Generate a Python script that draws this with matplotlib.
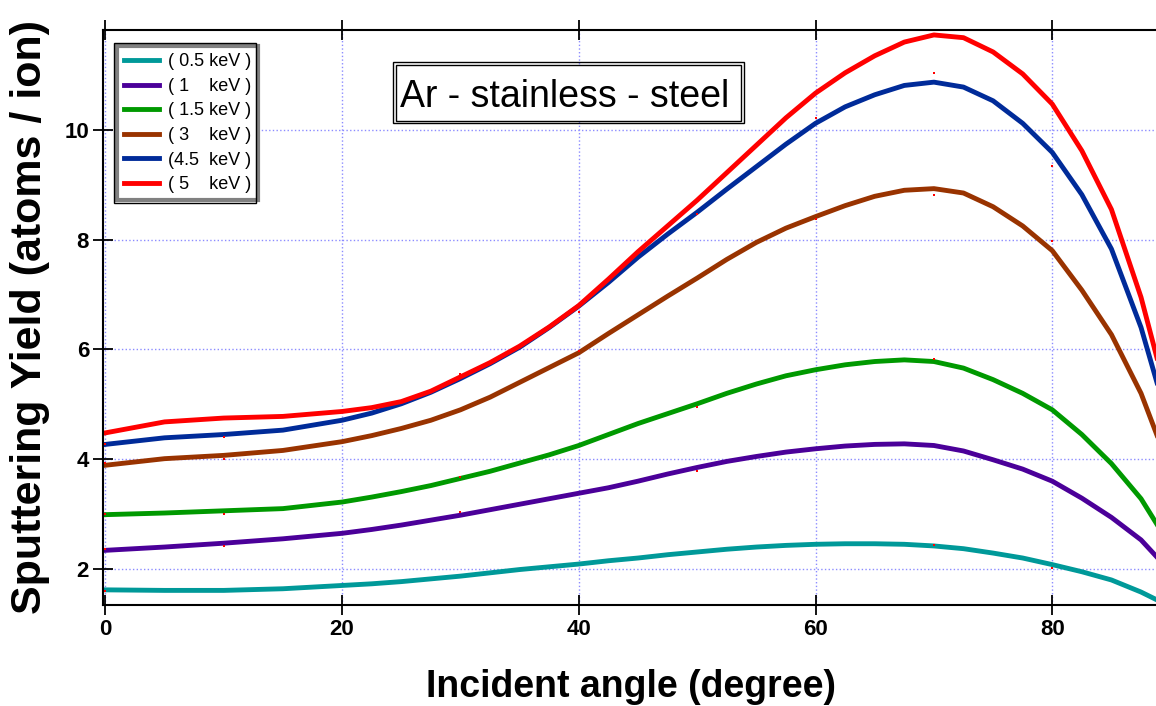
import numpy as np
import matplotlib
matplotlib.use("Agg")
import matplotlib.pyplot as plt
from matplotlib.patches import Rectangle

# incident angle (degree) at which each curve was sampled
angle = [0, 5, 10, 15, 20, 22.5, 25, 27.5, 30, 32.5, 35, 37.5, 40, 42.5, 45, 47.5, 50, 52.5, 55, 57.5,
         60, 62.5, 65, 67.5, 70, 72.5, 75, 77.5, 80, 82.5, 85, 87.5, 89]

# sputtering yield (atoms / ion) for Ar on stainless steel
y_05 = [1.62, 1.61, 1.61, 1.64, 1.70, 1.73, 1.77, 1.82, 1.87, 1.93, 1.99, 2.04, 2.09, 2.15, 2.20, 2.26, 2.31,
        2.36, 2.40, 2.43, 2.45, 2.46, 2.46, 2.45, 2.42, 2.37, 2.29, 2.20, 2.08, 1.95, 1.80, 1.58, 1.42]
y_1 = [2.34, 2.40, 2.47, 2.55, 2.65, 2.72, 2.80, 2.89, 2.98, 3.08, 3.18, 3.28, 3.38, 3.48, 3.60, 3.73, 3.85,
       3.96, 4.05, 4.13, 4.19, 4.24, 4.27, 4.28, 4.25, 4.15, 3.99, 3.82, 3.60, 3.29, 2.94, 2.53, 2.18]
y_15 = [2.99, 3.02, 3.06, 3.10, 3.22, 3.31, 3.41, 3.52, 3.65, 3.78, 3.93, 4.08, 4.25, 4.45, 4.65, 4.83, 5.01,
        5.20, 5.37, 5.52, 5.63, 5.72, 5.78, 5.81, 5.78, 5.66, 5.45, 5.20, 4.90, 4.45, 3.92, 3.28, 2.76]
y_3 = [3.89, 4.01, 4.07, 4.16, 4.32, 4.43, 4.56, 4.71, 4.90, 5.13, 5.40, 5.67, 5.94, 6.29, 6.63, 6.97, 7.30,
       7.64, 7.95, 8.21, 8.42, 8.62, 8.79, 8.90, 8.93, 8.85, 8.60, 8.25, 7.80, 7.08, 6.27, 5.20, 4.35]
y_45 = [4.27, 4.39, 4.45, 4.53, 4.71, 4.84, 5.01, 5.22, 5.47, 5.74, 6.04, 6.40, 6.79, 7.22, 7.68, 8.10, 8.50,
        8.92, 9.33, 9.74, 10.12, 10.42, 10.64, 10.81, 10.87, 10.78, 10.53, 10.12, 9.59, 8.82, 7.83, 6.40, 5.28]
y_5 = [4.48, 4.68, 4.75, 4.78, 4.87, 4.94, 5.05, 5.24, 5.50, 5.76, 6.06, 6.41, 6.80, 7.28, 7.78, 8.25, 8.72,
       9.22, 9.72, 10.22, 10.67, 11.04, 11.35, 11.60, 11.73, 11.68, 11.42, 11.02, 10.47, 9.62, 8.55, 6.95, 5.72]

labels = ["( 0.5 keV )", "( 1    keV )", "( 1.5 keV )", "( 3    keV )", "(4.5  keV )", "( 5    keV )"]
colors = ["#009999", "#4b0099", "#009900", "#993300", "#002b99", "#ff0000"]

# measured points
pt_x = [0, 0, 0, 0, 0, 10, 10, 10, 10, 30, 30, 30, 40, 40, 50, 50, 50, 60, 60, 70, 70, 70, 70, 80, 80, 80]
pt_y = [4.27, 3.93, 3.00, 2.36, 1.60, 4.41, 4.00, 3.01, 2.42, 5.55, 3.68, 3.04, 6.68, 5.98,
        8.46, 4.95, 3.79, 10.21, 8.37, 11.04, 8.81, 5.82, 2.44, 9.35, 7.98, 2.02]

font = "Liberation Sans"

fig = plt.figure(figsize=(11.56, 7.06), dpi=100)
ax = fig.add_axes([103 / 1156, 101 / 706, 1055.8 / 1156, 575 / 706])

for ys, lab, c in zip([y_05, y_1, y_15, y_3, y_45, y_5], labels, colors):
    ax.plot(angle, ys, color=c, lw=3.5, label=lab, solid_joinstyle="round")
ax.plot(pt_x, pt_y, "s", color="red", ms=2, mew=0, zorder=5, clip_on=False)

ax.set_xlim(-0.2, 89)
ax.set_ylim(1.344, 11.82)
ax.set_xticks([0, 20, 40, 60, 80])
ax.set_yticks([2, 4, 6, 8, 10])
ax.grid(True, color="#8c8cff", ls=":", lw=1)
ax.tick_params(direction="inout", length=14, width=1.3, top=True, right=False, pad=3)
for lab in ax.get_xticklabels() + ax.get_yticklabels():
    lab.set_family(font)
    lab.set_fontweight("bold")
    lab.set_fontsize(16)
for s in ax.spines.values():
    s.set_linewidth(1.5)

ax.set_xlabel("Incident angle (degree)", family=font, fontweight="bold", fontsize=27, labelpad=21)
ax.set_ylabel("Sputtering Yield (atoms / ion)", family=font, fontweight="bold", fontsize=31, labelpad=10)

# title box with a double frame
ax.add_patch(Rectangle((0.2745, 0.8374), 0.3325, 0.1061, transform=ax.transAxes, fill=False, ec="black", lw=1, zorder=6))
ax.add_patch(Rectangle((0.2774, 0.8417), 0.3267, 0.0974, transform=ax.transAxes, facecolor="white", ec="black", lw=1, zorder=6))
ax.text(0.281, 0.8666, "Ar - stainless - steel", transform=ax.transAxes, ha="left", va="baseline",
        family=font, fontsize=27, zorder=7)

leg = ax.legend(loc="upper left", bbox_to_anchor=(0.0135, 0.972), borderaxespad=0, fancybox=False,
                prop={"family": font, "size": 13}, handlelength=1.9, handletextpad=0.5,
                labelspacing=0.42, borderpad=0.4, framealpha=1)
leg.get_frame().set_edgecolor("#808080")
leg.get_frame().set_linewidth(3)
ax.add_patch(Rectangle((0.0105, 0.699), 0.1345, 0.278, transform=ax.transAxes, fill=False, ec="black", lw=1, zorder=6))

fig.savefig("out.png", dpi=100)
